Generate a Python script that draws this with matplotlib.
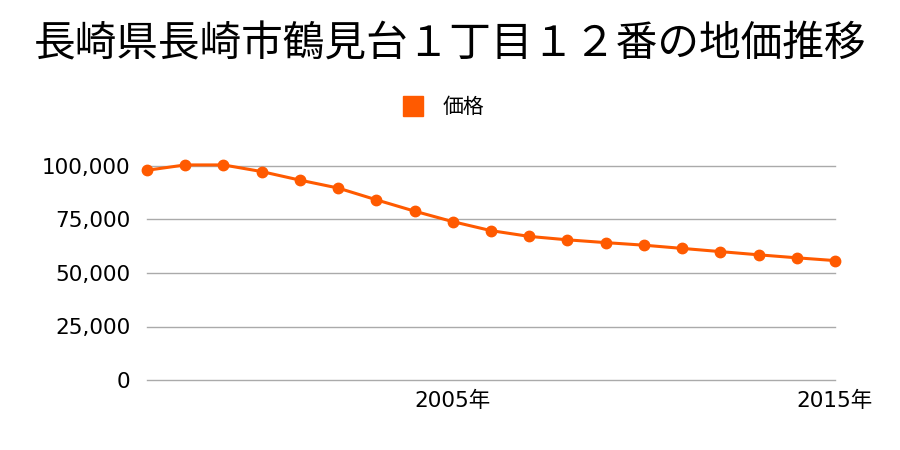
import matplotlib
matplotlib.use("Agg")
import matplotlib.pyplot as plt
from matplotlib.lines import Line2D

plt.rcParams['font.family'] = ['Noto Sans CJK JP', 'DejaVu Sans']
num_font = ['DejaVu Sans', 'Noto Sans CJK JP']

# data
years = list(range(1997, 2016))
prices = [98000, 100500, 100500, 97400, 93400, 89700, 84200, 78900, 74000, 69800,
          67100, 65500, 64200, 63000, 61500, 60000, 58500, 57100, 55800]
yticks = [0, 25000, 50000, 75000, 100000]
xticks = [2005, 2015]
xlabels = ['2005年', '2015年']
title = '長崎県長崎市鶴見台１丁目１２番の地価推移'
series_name = '価格'
color = '#ff5a00'

fig = plt.figure(figsize=(9, 4.5), dpi=100)
ax = fig.add_axes([147/900, 1 - 380/450, (835-147)/900, (380-166)/450])

ax.plot(years, prices, color=color, lw=2.2, marker='o', ms=7.5, clip_on=False, zorder=3)
ax.set_xlim(1997, 2015)
ax.set_ylim(0, 100000)

ax.set_yticks(yticks)
ax.set_yticklabels([f'{v:,}' for v in yticks], fontsize=15.5, family=num_font)
ax.set_xticks(xticks)
ax.set_xticklabels(xlabels, fontsize=15.5, family=num_font)
ax.tick_params(length=0, pad=12)
ax.tick_params(axis='x', pad=8)
ax.grid(axis='y', color='#aaaaaa', lw=1)
for gl in ax.get_ygridlines():
    gl.set_clip_on(False)
ax.set_axisbelow(True)
for s in ax.spines.values():
    s.set_visible(False)

fig.text(0.5, 1 - 45/450, title, ha='center', va='center', fontsize=30)

handle = Line2D([], [], color=color, marker='s', ls='none', ms=15)
fig.legend([handle], [series_name], loc='center', bbox_to_anchor=(438/900, 1 - 107/450),
           frameon=False, fontsize=15, handletextpad=0.4)

fig.savefig('out.png', dpi=100)
